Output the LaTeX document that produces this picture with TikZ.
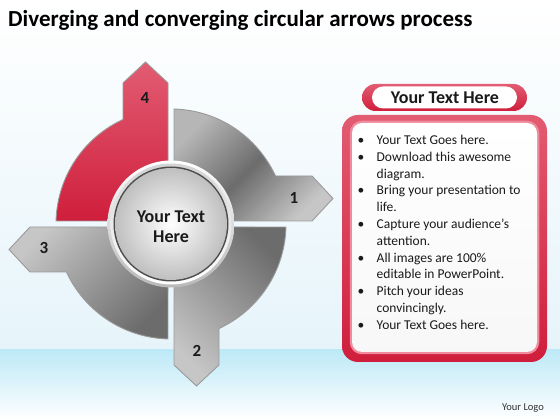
\documentclass[tikz,border=0pt]{standalone}
\usepackage{fontspec}
\setmainfont{Carlito}
\definecolor{bgtop}{HTML}{FFFFFF}
\definecolor{bgbot}{HTML}{E6F4FA}
\definecolor{band}{HTML}{BDE9F7}
\definecolor{qedge}{HTML}{9A9A9A}
\definecolor{qlightA}{HTML}{B6B6B6}
\definecolor{qlightB}{HTML}{C6C6C6}
\definecolor{qdark}{HTML}{6C6C6C}
\definecolor{redA}{HTML}{E25C72}
\definecolor{redB}{HTML}{CF1E3C}
\definecolor{pinkedge}{HTML}{F08A9C}
\definecolor{txt}{HTML}{1A1A1A}
\newcommand{\bulmark}{\makebox[19pt][l]{\textbullet}}
\begin{document}
\begin{tikzpicture}[x=1pt,y=1pt,
  quad/.style={draw=qedge, line width=0.9pt},
  num/.style={font=\bfseries\fontsize{17}{17}\selectfont, text=txt, inner sep=0},
  big/.style={font=\bfseries\fontsize{18}{20}\selectfont, text=txt, align=center, inner sep=0}]
\useasboundingbox (0,0) rectangle (560,420);
% background
\shade[top color=bgtop, bottom color=bgbot] (0,70) rectangle (560,420);
\shade[top color=band, bottom color=white] (0,0) rectangle (560,70);
% title
\node[anchor=base west, inner sep=0, font=\bfseries\fontsize{23}{27}\selectfont, text=black] (title) at (8,393) {Diverging and converging circular arrows process};
% diagram
\begin{scope}[shift={(171,196)}]
  % Q1 top-right, arrow right
  \shade[quad, left color=qlightA, right color=qlightB, middle color=qdark, shading angle=45]
    (59.92,3) -- (141,3) -- (162,25.5) -- (141,48) -- (104.5,48)
    arc[start angle=24.67, end angle=88.5, radius=115] -- (3,59.92)
    arc[start angle=87.13, end angle=2.87, radius=60] -- cycle;
  % Q4 top-left, arrow up (red)
  \shade[quad, top color=redA, bottom color=redB]
    (-3,59.92) -- (-3,141) -- (-25.5,162) -- (-48,141) -- (-48,104.5)
    arc[start angle=114.67, end angle=178.5, radius=115] -- (-59.92,3)
    arc[start angle=177.13, end angle=92.87, radius=60] -- cycle;
  % Q3 bottom-left, arrow left
  \shade[quad, left color=qlightB, right color=qdark, shading angle=45]
    (-59.92,-3) -- (-141,-3) -- (-162,-25.5) -- (-141,-48) -- (-104.5,-48)
    arc[start angle=204.67, end angle=268.5, radius=115] -- (-3,-59.92)
    arc[start angle=267.13, end angle=182.87, radius=60] -- cycle;
  % Q2 bottom-right, arrow down
  \shade[quad, left color=qlightB, right color=qdark, shading angle=135]
    (3,-59.92) -- (3,-141) -- (25.5,-162) -- (48,-141) -- (48,-104.5)
    arc[start angle=-65.33, end angle=-1.5, radius=115] -- (59.92,-3)
    arc[start angle=-2.87, end angle=-87.13, radius=60] -- cycle;
  % numbers
  \node[num] (n1) at (123,26) {1};
  \node[num] (n2) at (26,-127) {2};
  \node[num] (n3) at (-127,-24) {3};
  \node[num] (n4) at (-26,126) {4};
  % center circle
  \shade[top color=white, bottom color=gray!55] (0,0) circle (63.5);
  \shade[top color=gray!35, bottom color=white] (0,0) circle (60.5);
  \fill[black!70] (0,0) circle (57.5);
  \shade[inner color=white, outer color=gray!50] (0,0) circle (56);
  \node[big] (ctext) at (0,-3) {Your Text\\Here};
\end{scope}
% right panel header
\shade[rounded corners=13.5, top color=redA, bottom color=redB] (362,309) rectangle (527,336);
\fill[white, rounded corners=11] (372,311.5) rectangle (517,333.5);
\node[big] (head) at (445,322) {Your Text Here};
% right panel box
\shade[rounded corners=16, top color=redA, bottom color=redB] (342,58) rectangle (547,305);
\draw[pinkedge, line width=2.5, rounded corners=11] (351,67) rectangle (538,298);
\shade[rounded corners=10, top color=white, bottom color=gray!6] (352,68) rectangle (537,297);
\node[anchor=base west, inner sep=0, font=\fontsize{13.5}{16.8}\selectfont, text=txt] (list) at (357.5,275.5) {%
\begin{tabular}[t]{@{}l@{}l@{}}
\bulmark & Your Text Goes here.\\
\bulmark & Download this awesome\\
 & diagram.\\
\bulmark & Bring your presentation to\\
 & life.\\
\bulmark & Capture your audience’s\\
 & attention.\\
\bulmark & All images are 100\%\\
 & editable in PowerPoint.\\
\bulmark & Pitch your ideas\\
 & convincingly.\\
\bulmark & Your Text Goes here.
\end{tabular}};
% logo
\node[font=\fontsize{10.5}{12}\selectfont, text=black!80] (logo) at (523,12) {Your Logo};
\end{tikzpicture}
\end{document}
